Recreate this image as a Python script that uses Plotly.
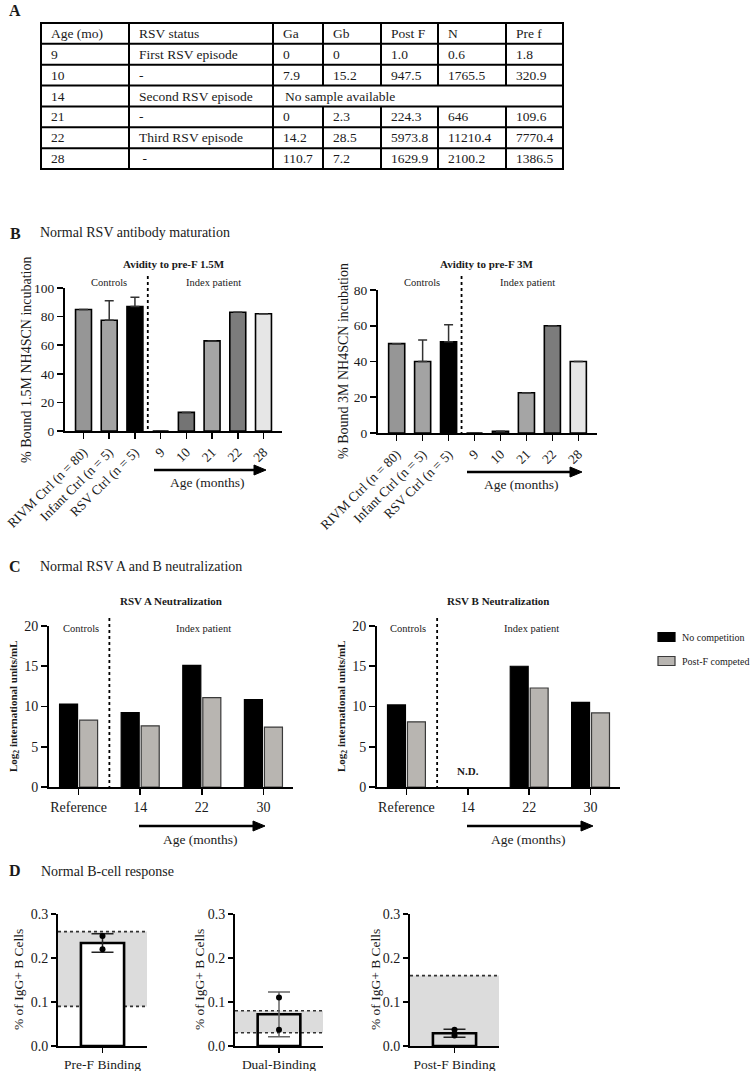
import plotly.graph_objects as go

W, H = 751, 1071
FONT = "Liberation Serif"
TXT = "#1a1a1a"

# ---------------- DATA ----------------
# Panel A table
table_header = ["Age (mo)", "RSV status", "Ga", "Gb", "Post F", "N", "Pre f"]
table_age = ["9", "10", "14", "21", "22", "28"]
table_status = ["First RSV episode", "-", "Second RSV episode", "-", "Third RSV episode", " -"]
table_ga = ["0", "7.9", None, "0", "14.2", "110.7"]
table_gb = ["0", "15.2", None, "2.3", "28.5", "7.2"]
table_postf = ["1.0", "947.5", None, "224.3", "5973.8", "1629.9"]
table_n = ["0.6", "1765.5", None, "646", "11210.4", "2100.2"]
table_pref = ["1.8", "320.9", None, "109.6", "7770.4", "1386.5"]
table_note = "No sample available"

# Panel B
avidity_labels = ["RIVM Ctrl (n = 80)", "Infant Ctrl (n = 5)", "RSV Ctrl (n = 5)",
                  "9", "10", "21", "22", "28"]
avidity_15M = [85, 77.5, 87, 0, 13, 63, 83, 82]
avidity_15M_err = [None, 13.5, 6.5, None, None, None, None, None]
avidity_3M = [50, 40, 51, 0, 1, 22.5, 60, 40]
avidity_3M_err = [None, 12, 9.5, None, None, None, None, None]
avidity_colors = ["#969696", "#a3a3a3", "#000000", "#777777", "#747474",
                  "#a5a5a5", "#7c7c7c", "#e6e6e6"]

# Panel C
neut_labels = ["Reference", "14", "22", "30"]
rsvA_nocomp = [10.3, 9.25, 15.1, 10.85]
rsvA_postf = [8.3, 7.6, 11.1, 7.45]
rsvB_nocomp = [10.2, None, 15.0, 10.5]
rsvB_postf = [8.1, None, 12.3, 9.2]
series_names = ["No competition", "Post-F competed"]
series_colors = ["#000000", "#b8b5b1"]
series_lines = ["#000000", "#3a3a3a"]

# Panel D
bcell_labels = ["Pre-F Binding", "Dual-Binding", "Post-F Binding"]
bcell_mean = [0.234, 0.072, 0.029]
bcell_sd = [0.021, 0.051, 0.009]
bcell_points = [[0.25, 0.22], [0.11, 0.037], [0.037, 0.024]]
bcell_ref_low = [0.09, 0.03, 0.0]
bcell_ref_high = [0.26, 0.08, 0.16]


# ---------------- HELPERS ----------------
def px(x):
    return x / W


def py(y):
    return 1 - y / H


def dom_x(a, b):
    return [a / W, b / W]


def dom_y(top, bottom):
    return [1 - bottom / H, 1 - top / H]


fig = go.Figure()
shapes = []
annotations = []


def text(x, y, s, size=14, bold=False, xanchor="center", angle=0, color=TXT):
    if bold:
        s = "<b>" + s + "</b>"
    annotations.append(dict(x=px(x), y=py(y), xref="paper", yref="paper", text=s,
                            showarrow=False, xanchor=xanchor, yanchor="middle",
                            textangle=angle,
                            font=dict(family=FONT, size=size, color=color)))


def hline(x0, x1, y, width=2, color="black", dash="solid"):
    shapes.append(dict(type="line", xref="paper", yref="paper", x0=px(x0), x1=px(x1),
                       y0=py(y), y1=py(y), line=dict(color=color, width=width, dash=dash)))


def vline(x, y0, y1, width=2, color="black"):
    shapes.append(dict(type="line", xref="paper", yref="paper", x0=px(x), x1=px(x),
                       y0=py(y0), y1=py(y1), line=dict(color=color, width=width)))


def arrow(x0, x1, y):
    shapes.append(dict(type="line", xref="paper", yref="paper", x0=px(x0), x1=px(x1 - 8),
                       y0=py(y), y1=py(y), line=dict(color="black", width=2.6)))
    path = "M {} {} L {} {} L {} {} Z".format(px(x1 - 12), py(y - 5), px(x1), py(y),
                                               px(x1 - 12), py(y + 5))
    shapes.append(dict(type="path", xref="paper", yref="paper", path=path,
                       fillcolor="black", line=dict(color="black", width=1)))


def axis_style(size=13.5, **kw):
    d = dict(showline=True, linecolor="black", linewidth=2, ticks="outside",
             ticklen=6, tickwidth=1.6, tickcolor="black", showgrid=False,
             zeroline=False, automargin=False,
             tickfont=dict(family=FONT, size=size, color=TXT),
             fixedrange=True)
    d.update(kw)
    return d


# ---------------- PANEL A: TABLE ----------------
text(15, 11, "A", size=16, bold=True)
cols = [41, 129, 273, 323, 381, 438, 506, 563]
row_top, row_h = 23, 20.86
rows = [row_top + i * row_h for i in range(8)]
merged_row = 1 + table_age.index("14")
for yy in rows:
    hline(cols[0] - 1, cols[-1] + 1, yy)
for j, c in enumerate(cols):
    if j <= 2 or j == len(cols) - 1:
        vline(c, rows[0], rows[-1])
    else:
        vline(c, rows[0], rows[merged_row])
        vline(c, rows[merged_row + 1], rows[-1])

table_body = [table_age, table_status, table_ga, table_gb, table_postf, table_n, table_pref]
for j, h in enumerate(table_header):
    text(cols[j] + 8, (rows[0] + rows[1]) / 2, h, size=13.5, xanchor="left")
for i in range(len(table_age)):
    yc = (rows[i + 1] + rows[i + 2]) / 2
    for j, colvals in enumerate(table_body):
        v = colvals[i]
        if v is None:
            if j == 2:
                text(cols[j] + 10, yc, table_note, size=13.5, xanchor="left")
            continue
        text(cols[j] + 8, yc, v, size=13.5, xanchor="left")

# ---------------- PANEL B ----------------
text(15, 233, "B", size=16, bold=True)
text(38, 232, "Normal RSV antibody maturation", size=14, xanchor="left")

n_b = len(avidity_labels)
fig.add_trace(go.Bar(
    x=list(range(n_b)), y=avidity_15M, width=0.62,
    marker=dict(color=avidity_colors, line=dict(color="black", width=1.6)),
    error_y=dict(type="data", symmetric=False, array=avidity_15M_err,
                 arrayminus=[0 if e is not None else None for e in avidity_15M_err],
                 color="#333333", thickness=1.5, width=4.5),
    xaxis="x", yaxis="y", showlegend=False))
fig.add_trace(go.Bar(
    x=list(range(n_b)), y=avidity_3M, width=0.62,
    marker=dict(color=avidity_colors, line=dict(color="black", width=1.6)),
    error_y=dict(type="data", symmetric=False, array=avidity_3M_err,
                 arrayminus=[0 if e is not None else None for e in avidity_3M_err],
                 color="#333333", thickness=1.5, width=4.5),
    xaxis="x2", yaxis="y2", showlegend=False))

b_xrange = [-0.72, n_b - 1 + 0.72]
layout_axes = dict(
    xaxis=axis_style(domain=dom_x(65, 282), range=b_xrange, tickvals=list(range(n_b)),
                     ticktext=avidity_labels, tickangle=-45, anchor="y"),
    yaxis=axis_style(domain=dom_y(288, 431), range=[0, 100], dtick=20, anchor="x"),
    xaxis2=axis_style(domain=dom_x(378, 597), range=b_xrange, tickvals=list(range(n_b)),
                      ticktext=avidity_labels, tickangle=-45, anchor="y2"),
    yaxis2=axis_style(domain=dom_y(290, 433), range=[0, 80], dtick=20, anchor="x2"),
)

text(174, 264, "Avidity to pre-F 1.5M", size=11, bold=True)
text(487, 264, "Avidity to pre-F 3M", size=11, bold=True)
for cx, ix in [(109, 214), (422, 527)]:
    text(cx, 283, "Controls", size=10.5)
    text(ix, 283, "Index patient", size=10.5)
text(26, 360, "% Bound 1.5M NH4SCN incubation", size=14, angle=-90)
text(343, 361, "% Bound 3M NH4SCN incubation", size=14, angle=-90)
shapes.append(dict(type="line", xref="x", yref="paper", x0=2.5, x1=2.5,
                   y0=py(276), y1=py(431), line=dict(color="black", width=1.8, dash="dot")))
shapes.append(dict(type="line", xref="x2", yref="paper", x0=2.5, x1=2.5,
                   y0=py(276), y1=py(433), line=dict(color="black", width=1.8, dash="dot")))
arrow(154, 266, 470)
arrow(467, 582, 472)
text(207, 483, "Age (months)", size=13.5)
text(521, 485, "Age (months)", size=13.5)

# ---------------- PANEL C ----------------
text(15, 566, "C", size=16, bold=True)
text(38, 566, "Normal RSV A and B neutralization", size=14, xanchor="left")

n_c = len(neut_labels)
for (xa, ya, vals) in [("x3", "y3", [rsvA_nocomp, rsvA_postf]),
                       ("x4", "y4", [rsvB_nocomp, rsvB_postf])]:
    for k in range(2):
        fig.add_trace(go.Bar(
            x=list(range(n_c)), y=vals[k], name=series_names[k],
            marker=dict(color=series_colors[k], line=dict(color=series_lines[k], width=1.2)),
            xaxis=xa, yaxis=ya, showlegend=False))

c_xrange = [-0.48, n_c - 1 + 0.48]
layout_axes.update(
    xaxis3=axis_style(size=14, domain=dom_x(49, 293), range=c_xrange,
                      tickvals=list(range(n_c)), ticktext=neut_labels, anchor="y3"),
    yaxis3=axis_style(size=14, domain=dom_y(626, 787), range=[0, 20], dtick=5, anchor="x3"),
    xaxis4=axis_style(size=14, domain=dom_x(377, 620), range=c_xrange,
                      tickvals=list(range(n_c)), ticktext=neut_labels, anchor="y4"),
    yaxis4=axis_style(size=14, domain=dom_y(626, 787), range=[0, 20], dtick=5, anchor="x4"),
)
text(171, 601, "RSV A Neutralization", size=11, bold=True)
text(498, 601, "RSV B Neutralization", size=11, bold=True)
for cx, ix in [(81, 203), (408, 531)]:
    text(cx, 628, "Controls", size=10.5)
    text(ix, 628, "Index patient", size=10.5)
text(14, 706, "Log<sub>2</sub> international units/mL", size=11, bold=True, angle=-90)
text(342, 706, "Log<sub>2</sub> international units/mL", size=11, bold=True, angle=-90)
text(468, 771, "N.D.", size=11, bold=True)
for xa in ["x3", "x4"]:
    shapes.append(dict(type="line", xref=xa, yref="paper", x0=0.5, x1=0.5,
                       y0=py(618), y1=py(787), line=dict(color="black", width=1.8, dash="dot")))
arrow(139, 265, 826)
arrow(467, 593, 826)
text(200, 839, "Age (months)", size=13.5)
text(528, 839, "Age (months)", size=13.5)
# legend
for k, yy in enumerate([637, 661]):
    shapes.append(dict(type="rect", xref="paper", yref="paper",
                       x0=px(658), x1=px(675), y0=py(yy - 4.5), y1=py(yy + 4.5),
                       fillcolor=series_colors[k], line=dict(color=series_lines[k], width=1.2)))
    text(680, yy, series_names[k], size=10, xanchor="left")

# ---------------- PANEL D ----------------
text(15, 870, "D", size=16, bold=True)
text(39, 871, "Normal B-cell response", size=14, xanchor="left")

d_doms = [(58, 147), (235, 323), (410, 499)]
d_fill = ["white", "rgba(0,0,0,0)", "rgba(0,0,0,0)"]
d_err_col = ["#222222", "#666666", "#222222"]
d_title_x = [18, 199, 375]
for i in range(3):
    xa = "x%d" % (5 + i)
    ya = "y%d" % (5 + i)
    fig.add_trace(go.Bar(
        x=[0], y=[bcell_mean[i]], width=0.97,
        marker=dict(color=d_fill[i], line=dict(color="black", width=2.6)),
        error_y=dict(type="data", array=[bcell_sd[i]], color=d_err_col[i],
                     thickness=1.5, width=11),
        xaxis=xa, yaxis=ya, showlegend=False))
    fig.add_trace(go.Scatter(
        x=[0] * len(bcell_points[i]), y=bcell_points[i], mode="markers",
        marker=dict(color="black", size=6), xaxis=xa, yaxis=ya, showlegend=False))
    layout_axes["xaxis%d" % (5 + i)] = axis_style(
        size=13.5, domain=dom_x(*d_doms[i]), range=[-1, 1], tickvals=[0],
        ticktext=[bcell_labels[i]], anchor=ya, ticklen=5)
    layout_axes["yaxis%d" % (5 + i)] = axis_style(
        size=14, domain=dom_y(914, 1046), range=[0, 0.3], dtick=0.1, tickformat=".1f",
        anchor=xa, ticklen=5)
    shapes.append(dict(type="rect", xref=xa + " domain", yref=ya, x0=0, x1=1,
                       y0=bcell_ref_low[i], y1=bcell_ref_high[i], fillcolor="#dcdcdc",
                       line=dict(width=0), layer="below"))
    for yv in (bcell_ref_low[i], bcell_ref_high[i]):
        if yv > 0:
            shapes.append(dict(type="line", xref=xa + " domain", yref=ya, x0=0, x1=1,
                               y0=yv, y1=yv, layer="below",
                               line=dict(color="#333333", width=1.6, dash="dot")))
    text(d_title_x[i], 980, "% of IgG+ B Cells", size=13.5, angle=-90)

fig.update_layout(
    template="none",
    width=W, height=H, autosize=False,
    margin=dict(l=0, r=0, t=0, b=0, pad=0),
    paper_bgcolor="white", plot_bgcolor="rgba(0,0,0,0)",
    barmode="group", bargap=0.35, bargroupgap=0.1,
    font=dict(family=FONT, color=TXT),
    showlegend=False,
    shapes=shapes, annotations=annotations,
    **layout_axes,
)

fig.write_html("out.html",
               config={"displayModeBar": False, "staticPlot": True},
               post_script="document.body.style.margin='0';document.body.style.padding='0';"
                           "document.body.style.overflow='hidden';")
